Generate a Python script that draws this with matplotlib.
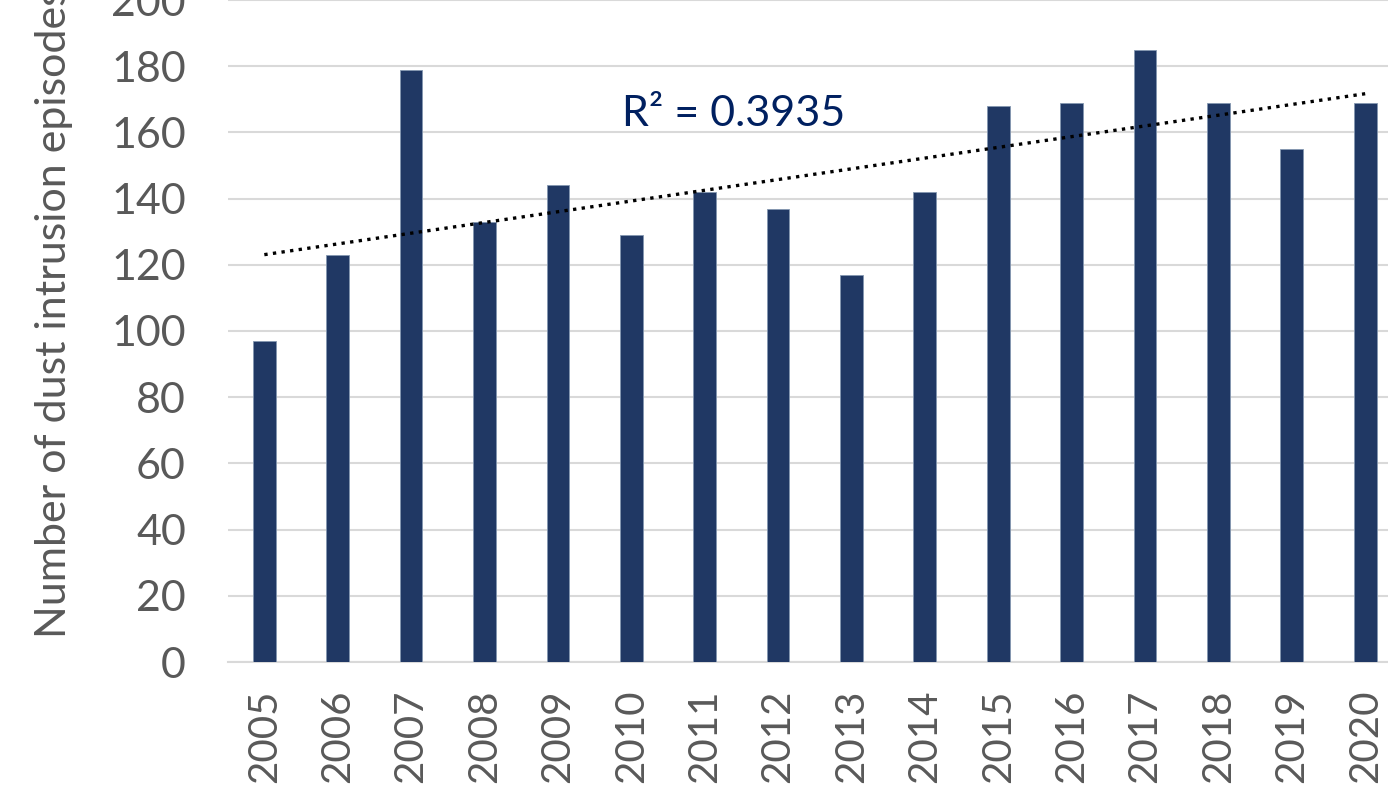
import matplotlib
matplotlib.use("Agg")
import matplotlib.pyplot as plt
import numpy as np

years = ["2005", "2006", "2007", "2008", "2009", "2010", "2011", "2012",
         "2013", "2014", "2015", "2016", "2017", "2018", "2019", "2020"]
episodes = [97, 123, 179, 133, 144, 129, 142, 137,
            117, 142, 168, 169, 185, 169, 155, 169]
y_ticks = [0, 20, 40, 60, 80, 100, 120, 140, 160, 180, 200]
r2_label = "R² = 0.3935"

BAR_COLOR = "#203864"
TEXT_COLOR = "#595959"
GRID_COLOR = "#d9d9d9"

plt.rcParams["font.family"] = ["Lato", "DejaVu Sans"]

fig = plt.figure(figsize=(13.88, 8.0), dpi=100)
ax = fig.add_axes([0.164, 0.1725, 0.846, 0.8275])

x = np.arange(len(years))
ax.bar(x, episodes, width=0.31, color=BAR_COLOR, edgecolor="#8497b0",
       linewidth=0.6, zorder=3)

# linear trend line through the yearly counts
slope, intercept = np.polyfit(x, episodes, 1)
ax.plot(x, slope * x + intercept, color="black", linestyle=(0, (1, 1.6)),
        linewidth=2.4, zorder=4)
ax.text(6.4, 165.5, r2_label, color="#002060", fontsize=31,
        ha="center", va="center", zorder=5)

ax.set_xlim(-0.5, len(years) - 0.5)
ax.set_ylim(0, 200)
ax.set_yticks(y_ticks)
ax.set_xticks(x)
ax.set_xticklabels(years, rotation=90)
ax.tick_params(axis="both", length=0, colors=TEXT_COLOR)
ax.tick_params(axis="y", pad=30, labelsize=31)
ax.tick_params(axis="x", pad=20, labelsize=29)

ax.yaxis.grid(True, color=GRID_COLOR, linewidth=1.5, zorder=0)
for side in ("top", "right", "left"):
    ax.spines[side].set_visible(False)
ax.spines["bottom"].set_color(GRID_COLOR)
ax.spines["bottom"].set_linewidth(1.5)

# axis title sits low, its top runs off the figure as in the original
fig.text(54 / 1388, (800 - 638) / 800, "Number of dust intrusion episodes",
         rotation=90, fontsize=31, color=TEXT_COLOR,
         ha="center", va="bottom")

fig.savefig("out.png", dpi=100)
